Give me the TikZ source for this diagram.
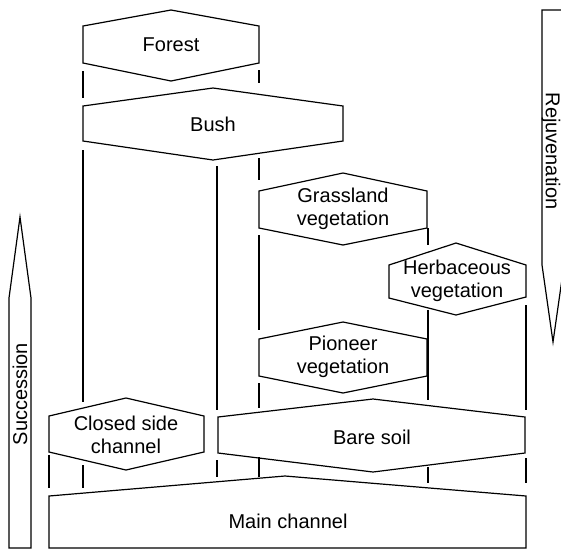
\documentclass[tikz,border=0pt]{standalone}
\usepackage{fontspec}
\setmainfont{Liberation Sans}
\begin{document}
\begin{tikzpicture}[x=1pt,y=-1pt,
  shape line/.style={draw=black,line width=1.2pt,line join=miter},
  link/.style={draw=black,line width=1.1pt},
  lbl/.style={font=\fontsize{20}{23}\selectfont,align=center,inner sep=0pt}]
\useasboundingbox (0,0) rectangle (561,550);
\clip (0,0) rectangle (561,550);
% Forest
\draw[shape line] (83,26)--(171,10)--(259,26)--(259,63)--(171,81)--(83,63)--cycle;
\node[lbl] (forest) at (171,45) {Forest};
% Bush
\draw[shape line] (83,106)--(213,88)--(343,106)--(343,141)--(213,160)--(83,141)--cycle;
\node[lbl] (bush) at (213,124) {Bush};
% Grassland
\draw[shape line] (259,191)--(343,173)--(427,191)--(427,228)--(343,245)--(259,228)--cycle;
\node[lbl] (grass) at (343,209) {Grassland\\vegetation};
% Herbaceous
\draw[shape line] (389,265)--(456,243)--(526,265)--(526,297)--(456,315)--(389,298)--cycle;
\node[lbl] (herb) at (457,281) {Herbaceous\\vegetation};
% Pioneer
\draw[shape line] (259,339)--(343,322)--(427,339)--(427,376)--(343,393)--(259,376)--cycle;
\node[lbl] (pion) at (343,357) {Pioneer\\vegetation};
% Closed side channel
\draw[shape line] (49,416)--(126,398)--(204,416)--(204,452)--(126,470)--(49,452)--cycle;
\node[lbl] (closed) at (126,435) {Closed side\\channel};
% Bare soil
\draw[shape line] (218,417)--(373,399)--(525,417)--(525,453)--(373,472)--(218,453)--cycle;
\node[lbl] (bare) at (372,437) {Bare soil};
% Main channel
\draw[shape line] (49,496)--(285,476)--(526,496)--(526,548)--(49,548)--cycle;
\node[lbl] (main) at (288,521) {Main channel};
% vertical connectors
\draw[link] (83,71)--(83,98);
\draw[link] (83,150)--(83,402);
\draw[link] (83,465)--(83,488);
\draw[link] (49,455)--(49,488);
\draw[link] (259,70)--(259,83);
\draw[link] (259,158)--(259,180);
\draw[link] (259,235)--(259,330);
\draw[link] (259,383)--(259,408);
\draw[link] (259,457)--(259,477);
\draw[link] (217,166)--(217,410);
\draw[link] (217,460)--(217,477);
\draw[link] (428,228)--(428,245);
\draw[link] (428,310)--(428,400);
\draw[link] (428,467)--(428,483);
\draw[link] (526,305)--(526,410);
\draw[link] (526,458)--(526,483);
% Succession arrow
\draw[shape line] (9,548)--(9,298)--(20,217)--(31,298)--(31,548)--cycle;
\node[lbl,rotate=90] (succ) at (20,394) {Succession};
% Rejuvenation arrow
\draw[shape line] (542,10)--(564,10)--(564,265)--(553,342)--(542,265)--cycle;
\node[lbl,rotate=-90] (rejuv) at (551,151) {Rejuvenation};
\end{tikzpicture}
\end{document}
